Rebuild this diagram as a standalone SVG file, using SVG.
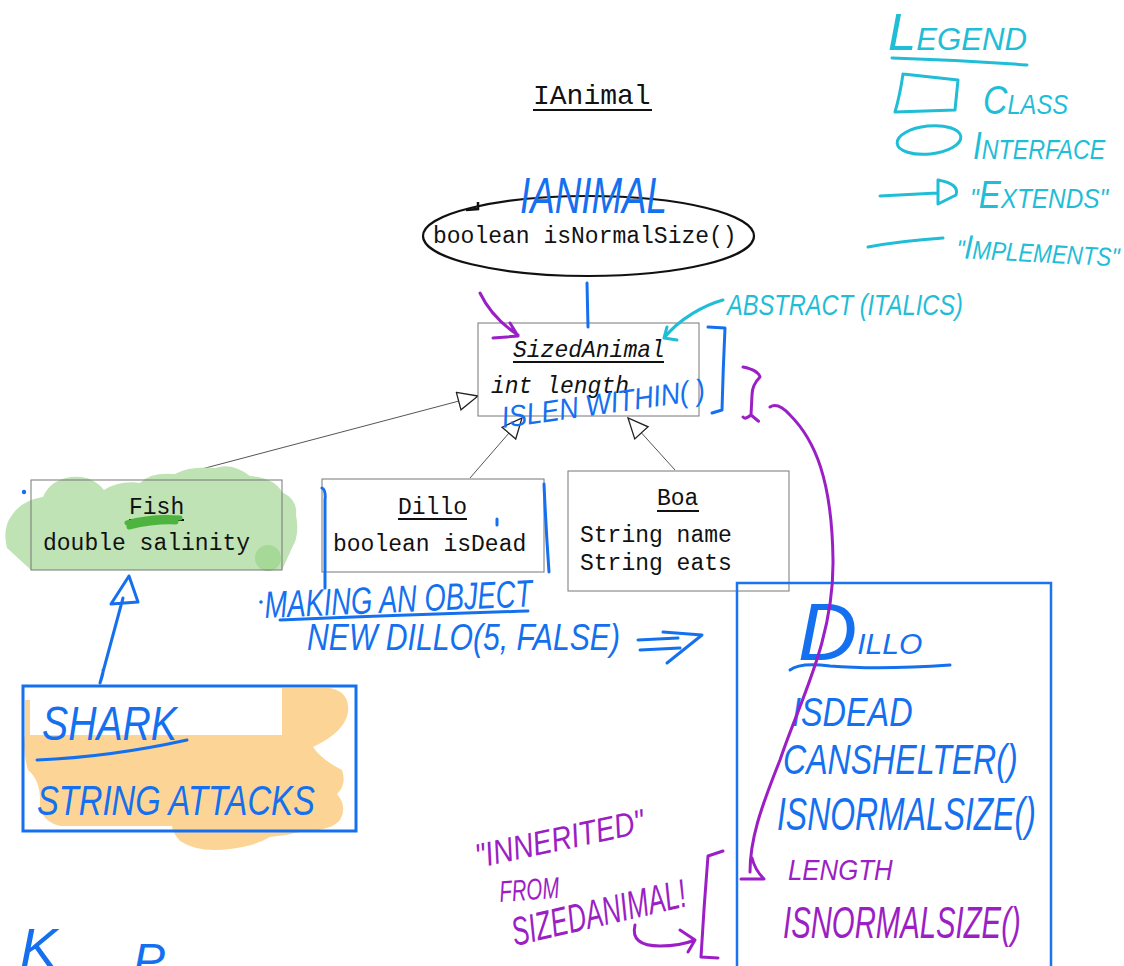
<svg xmlns="http://www.w3.org/2000/svg" width="1124" height="966" viewBox="0 0 1124 966">
<style>
.mono{font-family:"Liberation Mono",monospace;font-size:23px;fill:#111}
.it{font-style:italic}
.box{fill:#fff;stroke:#777;stroke-width:1}
.boxn{fill:none;stroke:#777;stroke-width:1}
.ul{stroke:#111;stroke-width:2}
.conn{stroke:#555;stroke-width:1;fill:none}
.hand{font-family:"Liberation Sans",Arial,sans-serif;font-style:italic}
.tb{fill:#1570ef}.tp{fill:#9b1fc4}.tc{fill:#1fbdd6}
.sb{stroke:#1570ef;fill:none;stroke-width:3;stroke-linecap:round;stroke-linejoin:round}
.sp{stroke:#9b1fc4;fill:none;stroke-width:3;stroke-linecap:round;stroke-linejoin:round}
.sc{stroke:#1fbdd6;fill:none;stroke-width:3;stroke-linecap:round;stroke-linejoin:round}
</style>
<defs>
<marker id="tri" markerUnits="userSpaceOnUse" markerWidth="24" markerHeight="22" refX="21" refY="10" orient="auto">
<path d="M1,1 L21,10 L1,19 Z" fill="#fff" stroke="#222" stroke-width="1.3"/>
</marker>
</defs>
<rect width="1124" height="966" fill="#fff"/>

<g id="title">
<text class="mono" x="533" y="104" style="font-size:28px">IAnimal</text>
<line class="ul" x1="533" y1="110" x2="652" y2="110" stroke-width="2.5"/>
</g>

<g id="connectors">
<line class="conn" x1="160" y1="480" x2="478" y2="396" marker-end="url(#tri)"/>
<line class="conn" x1="470" y1="478" x2="522" y2="418" marker-end="url(#tri)"/>
<line class="conn" x1="675" y1="470" x2="628" y2="418" marker-end="url(#tri)"/>
</g>

<g id="node-ianimal">
<ellipse cx="588.5" cy="236" rx="165.5" ry="40" fill="#fff" stroke="#111" stroke-width="2.2"/>
<path d="M466,210 L478,209 L478,202" stroke="#111" stroke-width="2.5" fill="none"/>
<text class="mono" x="433" y="243">boolean isNormalSize()</text>
</g>

<g id="node-sizedanimal">
<rect class="box" x="478" y="323" width="221" height="93"/>
<text class="mono it" x="513" y="357">SizedAnimal</text>
<line class="ul" x1="513" y1="362" x2="664" y2="362"/>
<text class="mono it" x="491" y="393">int length</text>
</g>

<g id="node-fish">
<path d="M31,570 L7,548 Q2,528 12,515 Q22,500 43,497 Q50,480 71,477 Q92,475 104,490 Q120,480 140,483 Q150,472 175,474 Q190,466 215,468 Q232,462 250,476 Q275,478 282,492 Q298,500 296,515 Q300,535 292,548 L282,570 Z" fill="#bfe3b4"/>
<circle cx="268" cy="558" r="13" fill="#a6d898"/>
<rect class="boxn" x="31" y="480" width="251" height="90"/>
<text class="mono" x="129" y="514">Fish</text>
<line class="ul" x1="129" y1="520" x2="184" y2="520"/>
<path d="M127,523 Q150,516 180,518 M129,527 Q155,521 176,522" stroke="#4fb43f" stroke-width="5" fill="none" stroke-linecap="round"/>
<text class="mono" x="43" y="550">double salinity</text>
</g>

<g id="node-dillo">
<rect class="box" x="322" y="479" width="222" height="93"/>
<text class="mono" x="398" y="514">Dillo</text>
<line class="ul" x1="398" y1="519" x2="467" y2="519"/>
<text class="mono" x="333" y="551">boolean isDead</text>
</g>

<g id="node-boa">
<rect class="box" x="568" y="471" width="221" height="120"/>
<text class="mono" x="657" y="505">Boa</text>
<line class="ul" x1="657" y1="511" x2="699" y2="511"/>
<text class="mono" x="580" y="542">String name</text>
<text class="mono" x="580" y="570">String eats</text>
</g>

<g id="node-shark">
<path d="M25,700 L30,700 L30,735 L282,735 L282,688 L330,688 Q350,692 348,712 Q345,732 313,747 Q322,760 342,770 Q347,785 337,794 Q347,806 341,818 Q336,830 300,832 Q285,836 270,837 Q255,846 230,849 Q198,853 180,841 Q172,832 172,826 L60,826 Q38,820 40,800 Q40,780 28,770 Q22,750 25,735 Z" fill="#fcd596"/>
<rect x="23" y="686" width="333" height="145" fill="none" stroke="#1570ef" stroke-width="3"/>
<text class="hand tb" x="42" y="740" font-size="48" textLength="135" lengthAdjust="spacingAndGlyphs">SHARK</text>
<path class="sb" d="M37,760 Q110,757 187,740"/>
<text class="hand tb" transform="translate(37 815) scale(0.78 1)" font-size="42">STRING  ATTACKS</text>
</g>

<g id="node-dillo-object">
<rect x="737" y="583" width="314" height="400" fill="none" stroke="#1a73f0" stroke-width="2.5"/>
<text class="hand tb" x="798" y="660"><tspan font-size="82">D</tspan><tspan font-size="30" dy="-6">ILLO</tspan></text>
<path class="sb" d="M790,670 Q800,662 830,666 Q880,670 950,665"/>
<text class="hand tb" transform="translate(792 726) scale(0.81 1)" font-size="40">ISDEAD</text>
<text class="hand tb" transform="translate(783 774) scale(0.764 1)" font-size="42">CANSHELTER()</text>
<text class="hand tb" transform="translate(777 830) scale(0.694 1)" font-size="46">ISNORMALSIZE()</text>
<text class="hand tp" transform="translate(788 880) scale(0.861 1)" font-size="30">LENGTH</text>
<text class="hand tp" transform="translate(783 938) scale(0.666 1)" font-size="44">ISNORMALSIZE()</text>
</g>

<g id="legend">
<text class="hand tc" x="888" y="50" textLength="139" lengthAdjust="spacingAndGlyphs"><tspan font-size="52">L</tspan><tspan font-size="32">EGEND</tspan></text>
<path class="sc" d="M892,58 Q960,60 1027,65"/>
<path class="sc" d="M903,74 L958,80 M903,74 Q900,95 895,112 L955,110 L958,80"/>
<text class="hand tc" transform="translate(983 114) scale(0.846 1)"><tspan font-size="40">C</tspan><tspan font-size="28">LASS</tspan></text>
<ellipse class="sc" cx="929" cy="140" rx="32" ry="14" transform="rotate(-6 929 140)"/>
<text class="hand tc" transform="translate(973 159) scale(0.83 1)"><tspan font-size="38">I</tspan><tspan font-size="28">NTERFACE</tspan></text>
<path class="sc" d="M880,196 L937,193 M938,180 L938,204 M938,180 Q960,184 956,195 L938,204"/>
<text class="hand tc" transform="translate(970 208) scale(0.87 1)"><tspan font-size="28">"</tspan><tspan font-size="38">E</tspan><tspan font-size="28">XTENDS"</tspan></text>
<path class="sc" d="M868,247 Q900,241 943,238"/>
<text class="hand tc" transform="translate(956 258) rotate(3) scale(0.86 1)"><tspan font-size="26">"</tspan><tspan font-size="34">I</tspan><tspan font-size="26">MPLEMENTS"</tspan></text>
</g>

<g id="annotations">
<text class="hand tb" x="520" y="213" font-size="50" textLength="147" lengthAdjust="spacingAndGlyphs">IANIMAL</text>
<path class="sb" d="M587,283 L588,327" stroke-width="4"/>
<path class="sp" d="M480,293 Q492,318 518,335 M510,323 L518,336 L493,338"/>
<path class="sc" d="M723,300 C705,305 680,318 664,338 M667,327 L664,338 L677,340"/>
<text class="hand tc" x="727" y="315" font-size="30" textLength="236" lengthAdjust="spacingAndGlyphs">ABSTRACT (ITALICS)</text>
<path class="sb" d="M708,327 L725,328 Q723,370 722,410 L712,413"/>
<text class="hand tb" x="503" y="428" font-size="30" textLength="205" lengthAdjust="spacingAndGlyphs" transform="rotate(-8 503 428)">ISLEN WITHIN( )</text>
<path class="sp" d="M743,367 Q758,370 760,377 Q752,385 752,395 L751,415 Q745,420 743,417 M751,415 Q762,424 757,420"/>
<path class="sp" d="M770,407 Q778,402 790,415 C815,440 832,480 833,560 C834,640 800,700 780,760 C760,810 750,840 750,872 M752,858 Q755,870 764,879 L741,879"/>
<path class="sb" d="M322,488 Q326,490 325,500 L325,588"/>
<path class="sb" d="M544,484 Q546,530 549,572"/>
<path class="sb" d="M497,519 L497,525" stroke-width="2"/>
<circle cx="24" cy="492" r="2.2" fill="#1570ef"/>
<path class="sb" d="M100,683 Q104,672 103,670 M100,683 L123,598 M129,576 L111,604 L138,602 Z"/>
<circle cx="261" cy="602" r="1.8" fill="#1570ef"/>
<text class="hand tb" x="265" y="618" font-size="38" textLength="268" lengthAdjust="spacingAndGlyphs" transform="rotate(-2.5 265 618)">MAKING AN OBJECT</text>
<path class="sb" d="M280,620 Q400,615 528,611"/>
<text class="hand tb" x="307" y="650" font-size="36" textLength="313" lengthAdjust="spacingAndGlyphs">NEW DILLO(5, FALSE)</text>
<path class="sb" d="M638,640 L678,638 M640,650 L680,648 M663,632 L702,635 L667,663"/>
<text class="hand tp" x="478" y="868" font-size="34" textLength="172" lengthAdjust="spacingAndGlyphs" transform="rotate(-12 478 868)">"INNERITED"</text>
<text class="hand tp" x="500" y="902" font-size="30" textLength="60" lengthAdjust="spacingAndGlyphs" transform="rotate(-4 500 902)">FROM</text>
<text class="hand tp" x="515" y="946" font-size="40" textLength="178" lengthAdjust="spacingAndGlyphs" transform="rotate(-13 515 946)">SIZEDANIMAL!</text>
<path class="sp" d="M723,851 L708,856 Q704,905 701,957 L718,958"/>
<path class="sp" d="M635,925 Q630,946 660,946 Q680,946 695,940 M680,930 L695,940 L688,952"/>
<text class="hand tb" x="20" y="967" font-size="56">K<tspan x="133" y="977" font-size="48">P</tspan></text>
</g>
</svg>
